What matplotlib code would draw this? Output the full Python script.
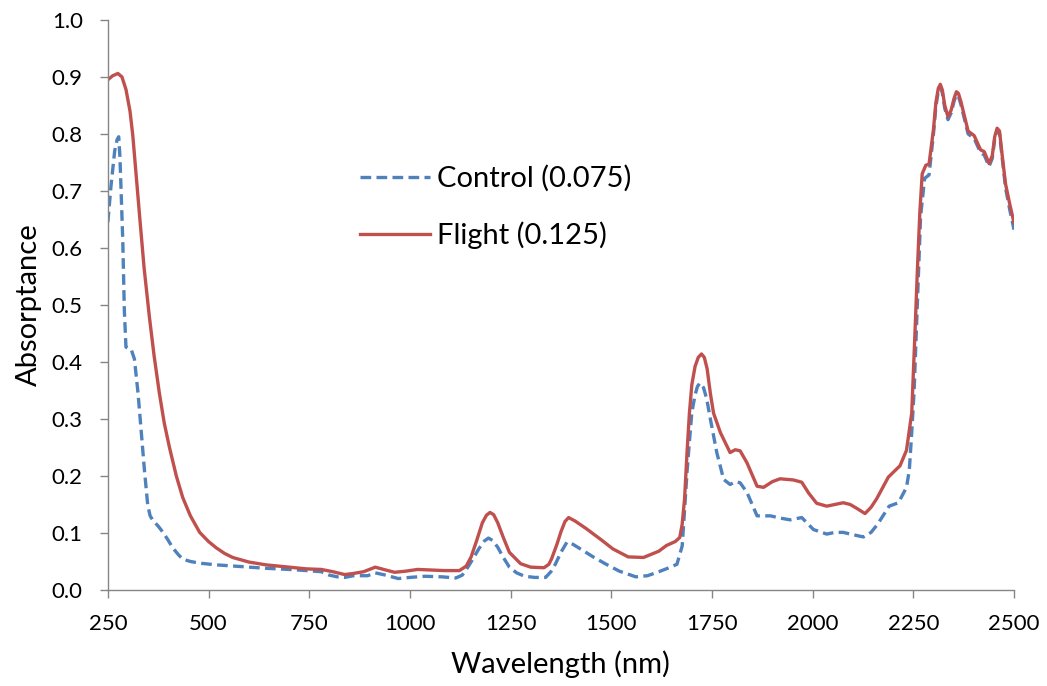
import matplotlib
matplotlib.use("Agg")
import matplotlib.pyplot as plt

plt.rcParams['font.family'] = ['Lato', 'DejaVu Sans']

# Flight sample spectrum (wavelength nm, absorptance)
flight_wl = [250, 262, 275, 285, 295, 305, 312, 320, 329, 340, 353, 365, 378, 390, 403,
             420, 436, 455, 478, 500, 519, 540, 560, 600, 643, 700, 743, 780, 809, 838,
             860, 885, 914, 940, 962, 990, 1019, 1050, 1085, 1123, 1140, 1152, 1165, 1180,
             1190, 1199, 1208, 1218, 1232, 1247, 1275, 1300, 1333, 1345, 1352, 1365, 1375,
             1385, 1394, 1410, 1437, 1475, 1504, 1542, 1580, 1597, 1618, 1637, 1659, 1670,
             1676, 1682, 1688, 1694, 1700, 1708, 1716, 1724, 1731, 1738, 1746, 1754, 1771,
             1795, 1808, 1820, 1837, 1862, 1878, 1900, 1919, 1952, 1973, 1990, 2010, 2035,
             2055, 2076, 2093, 2110, 2130, 2145, 2159, 2188, 2217, 2233, 2246, 2254, 2260,
             2266, 2272, 2281, 2289, 2300, 2306, 2312, 2317, 2322, 2328, 2336, 2344, 2351,
             2357, 2362, 2368, 2386, 2401, 2417, 2426, 2438, 2446, 2452, 2458, 2464, 2471,
             2479, 2490, 2500]
flight_abs = [0.895, 0.902, 0.906, 0.900, 0.878, 0.84, 0.797, 0.73, 0.655, 0.565, 0.48,
              0.41, 0.345, 0.293, 0.25, 0.20, 0.162, 0.13, 0.101, 0.085, 0.074, 0.064,
              0.057, 0.049, 0.044, 0.040, 0.037, 0.036, 0.032, 0.027, 0.029, 0.032, 0.040,
              0.035, 0.031, 0.033, 0.036, 0.035, 0.034, 0.034, 0.042, 0.058, 0.085, 0.118,
              0.131, 0.136, 0.132, 0.118, 0.092, 0.066, 0.046, 0.040, 0.039, 0.045, 0.055,
              0.080, 0.102, 0.120, 0.127, 0.121, 0.108, 0.088, 0.072, 0.058, 0.057, 0.062,
              0.068, 0.078, 0.085, 0.092, 0.115, 0.16, 0.24, 0.31, 0.36, 0.392, 0.408,
              0.414, 0.408, 0.388, 0.345, 0.31, 0.276, 0.241, 0.246, 0.244, 0.223, 0.182,
              0.18, 0.19, 0.195, 0.193, 0.189, 0.170, 0.152, 0.147, 0.150, 0.153, 0.150,
              0.143, 0.134, 0.145, 0.160, 0.198, 0.218, 0.245, 0.31, 0.45, 0.56, 0.66,
              0.73, 0.745, 0.747, 0.808, 0.855, 0.880, 0.887, 0.877, 0.850, 0.830, 0.842,
              0.862, 0.874, 0.871, 0.857, 0.805, 0.797, 0.772, 0.769, 0.748, 0.762, 0.795,
              0.810, 0.805, 0.76, 0.712, 0.675, 0.644]

# Control sample spectrum (wavelength nm, absorptance)
control_wl = [250, 258, 267, 273, 277, 280, 283, 287, 291, 295, 302, 308, 316, 325, 333,
              341, 349, 355, 362, 375, 387, 400, 411, 425, 436, 455, 478, 520, 560, 600,
              643, 700, 743, 780, 800, 820, 838, 860, 895, 914, 940, 971, 1000, 1038, 1080,
              1114, 1130, 1142, 1157, 1171, 1185, 1195, 1205, 1218, 1232, 1247, 1265, 1285,
              1310, 1337, 1350, 1361, 1375, 1390, 1405, 1428, 1455, 1485, 1520, 1561, 1590,
              1618, 1640, 1663, 1676, 1682, 1688, 1694, 1700, 1708, 1714, 1720, 1729, 1737,
              1746, 1762, 1779, 1795, 1808, 1820, 1837, 1862, 1895, 1920, 1944, 1973, 2002,
              2035, 2055, 2076, 2100, 2126, 2145, 2161, 2190, 2213, 2233, 2240, 2246, 2252,
              2260, 2268, 2278, 2289, 2300, 2306, 2312, 2317, 2322, 2328, 2336, 2344, 2351,
              2357, 2362, 2368, 2386, 2401, 2417, 2426, 2438, 2446, 2452, 2458, 2464, 2471,
              2479, 2490, 2500]
control_abs = [0.645, 0.71, 0.77, 0.79, 0.795, 0.76, 0.70, 0.615, 0.49, 0.426, 0.423,
               0.422, 0.405, 0.345, 0.277, 0.209, 0.149, 0.130, 0.122, 0.112, 0.101, 0.087,
               0.074, 0.062, 0.054, 0.050, 0.047, 0.044, 0.042, 0.040, 0.038, 0.036, 0.034,
               0.032, 0.026, 0.023, 0.022, 0.025, 0.025, 0.030, 0.026, 0.020, 0.022, 0.024,
               0.023, 0.021, 0.026, 0.038, 0.055, 0.072, 0.086, 0.091, 0.087, 0.075, 0.057,
               0.040, 0.030, 0.024, 0.022, 0.022, 0.032, 0.045, 0.066, 0.084, 0.080, 0.070,
               0.058, 0.046, 0.033, 0.023, 0.025, 0.032, 0.038, 0.045, 0.077, 0.14, 0.206,
               0.26, 0.311, 0.342, 0.357, 0.363, 0.355, 0.335, 0.30, 0.241, 0.194, 0.185,
               0.190, 0.188, 0.171, 0.130, 0.130, 0.126, 0.123, 0.127, 0.106, 0.098, 0.101,
               0.101, 0.097, 0.093, 0.101, 0.115, 0.147, 0.153, 0.180, 0.21, 0.276, 0.35,
               0.50, 0.655, 0.722, 0.728, 0.80, 0.848, 0.875, 0.882, 0.872, 0.845, 0.825,
               0.837, 0.857, 0.869, 0.866, 0.852, 0.800, 0.792, 0.767, 0.763, 0.743, 0.757,
               0.790, 0.806, 0.800, 0.755, 0.705, 0.665, 0.632]

series_labels = ["Control (0.075)", "Flight (0.125)"]
x_ticks = [250, 500, 750, 1000, 1250, 1500, 1750, 2000, 2250, 2500]
y_ticks = [0.0, 0.1, 0.2, 0.3, 0.4, 0.5, 0.6, 0.7, 0.8, 0.9, 1.0]

fig = plt.figure(figsize=(10.47, 6.86), dpi=100)
ax = fig.add_axes([0.103, 0.14, 0.8655, 0.831])

ax.plot(control_wl, control_abs, color="#4F81BD", lw=2.4, ls=(0, (3.2, 1.6)),
        label=series_labels[0])
ax.plot(flight_wl, flight_abs, color="#C0504D", lw=2.4, label=series_labels[1])

ax.set_xlim(250, 2500)
ax.set_ylim(0, 1.0)
ax.set_xticks(x_ticks)
ax.set_yticks(y_ticks)
ax.set_yticklabels([f"{v:.1f}" for v in y_ticks])

for side in ("top", "right"):
    ax.spines[side].set_visible(False)
for side in ("left", "bottom"):
    ax.spines[side].set_color("#868686")
    ax.spines[side].set_linewidth(1.0)
ax.tick_params(axis="both", colors="#868686", labelcolor="black", labelsize=16,
               length=6, width=1.0, direction="out")
ax.tick_params(axis="x", pad=11)
ax.tick_params(axis="y", pad=12)

ax.set_xlabel("Wavelength (nm)", fontsize=21, labelpad=12)
ax.set_ylabel("Absorptance", fontsize=21, labelpad=7)

ax.legend(loc="upper left", bbox_to_anchor=(0.265, 0.766), borderaxespad=0,
          frameon=False, fontsize=21, handlelength=2.4, handletextpad=0.25,
          labelspacing=1.02)

fig.savefig("out.png", dpi=100)
